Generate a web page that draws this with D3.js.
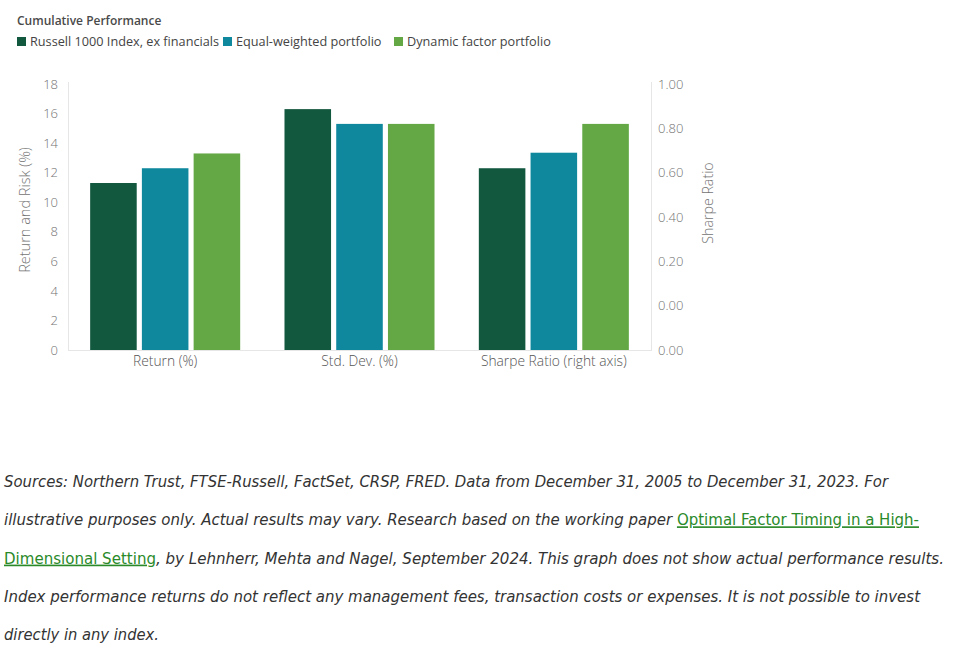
<!DOCTYPE html>
<html>
<head>
<meta charset="utf-8">
<script src="https://cdn.jsdelivr.net/npm/d3@7"></script>
<style>
  html, body { margin: 0; padding: 0; background: #fff; }
  svg { display: block; }
</style>
</head>
<body>
<svg id="chart" width="958" height="650"></svg>
<script>
// ---- data ----
const categories = ["Return (%)", "Std. Dev. (%)", "Sharpe Ratio (right axis)"];
const seriesNames = ["Russell 1000 Index, ex financials", "Equal-weighted portfolio", "Dynamic factor portfolio"];
const seriesColors = ["#12583f", "#0f889d", "#63a845"];
const returnValues = [11.3, 12.3, 13.3];
const stdDevValues = [16.3, 15.3, 15.3];
const sharpeValues = [0.62, 0.69, 0.82];
const leftTicks = [0, 2, 4, 6, 8, 10, 12, 14, 16, 18];
const rightTickValues = [-0.2, 0, 0.2, 0.4, 0.6, 0.8, 1.0];
const rightTickLabels = ["0.00", "0.00", "0.20", "0.40", "0.60", "0.80", "1.00"];
const footLines = [
  [{t: "Sources: Northern Trust, FTSE-Russell, FactSet, CRSP, FRED. Data from December 31, 2005 to December 31, 2023. For"}],
  [{t: "illustrative purposes only. Actual results may vary. Research based on the working paper "}, {t: "Optimal Factor Timing in a High-", link: true}],
  [{t: "Dimensional Setting", link: true}, {t: ", by Lehnherr, Mehta and Nagel, September 2024. This graph does not show actual performance results."}],
  [{t: "Index performance returns do not reflect any management fees, transaction costs or expenses. It is not possible to invest"}],
  [{t: "directly in any index."}]
];
const footWidths = [884, 915, 940, 916, 155];

// ---- layout ----
const svg = d3.select("#chart");
const L = 68, R = 651, T = 84, B = 350;
const font = "'Open Sans', Lato, sans-serif";

const x0 = d3.scaleBand().domain(categories).range([L, R]).paddingInner(0.228).paddingOuter(0.114);
const x1 = d3.scaleBand().domain(seriesNames).range([0, x0.bandwidth()]).paddingInner(0.1);
const yL = d3.scaleLinear().domain([0, 18]).range([B, T]);
const yR = d3.scaleLinear().domain([-0.2, 1.0]).range([B, T]);

const rows = [
  {cat: categories[0], vals: returnValues, scale: yL},
  {cat: categories[1], vals: stdDevValues, scale: yL},
  {cat: categories[2], vals: sharpeValues, scale: yR}
];

// axis lines
svg.append("line").attr("x1", L + 0.5).attr("x2", L + 0.5).attr("y1", T - 2).attr("y2", B).attr("stroke", "#e6e6e6");
svg.append("line").attr("x1", R + 0.5).attr("x2", R + 0.5).attr("y1", T - 2).attr("y2", B).attr("stroke", "#e6e6e6");
svg.append("line").attr("x1", L).attr("x2", R + 1).attr("y1", B + 0.5).attr("y2", B + 0.5).attr("stroke", "#e6e6e6");

// bars
rows.forEach(r => {
  const g = svg.append("g").attr("transform", `translate(${x0(r.cat)},0)`);
  g.selectAll("rect").data(r.vals).join("rect")
    .attr("x", (d, i) => x1(seriesNames[i]))
    .attr("width", x1.bandwidth())
    .attr("y", d => r.scale(d))
    .attr("height", d => B - r.scale(d))
    .attr("fill", (d, i) => seriesColors[i]);
});

const tickStyle = (sel, size) => sel.attr("font-family", font).attr("font-weight", 300).attr("font-size", size || 13).attr("fill", "#737373");

// left axis
const axL = d3.axisLeft(yL).tickValues(leftTicks).tickSize(0).tickPadding(10);
const gL = svg.append("g").attr("transform", `translate(${L},0)`).call(axL);
gL.select(".domain").remove();
tickStyle(gL.selectAll("text"));

// right axis
const axR = d3.axisRight(yR).tickValues(rightTickValues).tickFormat((d, i) => rightTickLabels[i]).tickSize(0).tickPadding(7);
const gR = svg.append("g").attr("transform", `translate(${R},0)`).call(axR);
gR.select(".domain").remove();
tickStyle(gR.selectAll("text"));

// x axis
const axX = d3.axisBottom(x0).tickSize(0).tickPadding(6);
const gX = svg.append("g").attr("transform", `translate(0,${B})`).call(axX);
gX.select(".domain").remove();
tickStyle(gX.selectAll("text"), 13.8).attr("fill", "#555");

// axis titles
tickStyle(svg.append("text").attr("transform", `translate(30,${(T + B) / 2 - 7}) rotate(-90)`)
  .attr("text-anchor", "middle"), 14.5).text("Return and Risk (%)");
tickStyle(svg.append("text").attr("transform", `translate(713,${(T + B) / 2 - 14}) rotate(-90)`)
  .attr("text-anchor", "middle"), 14.2).text("Sharpe Ratio");

// title
svg.append("text").attr("x", 17).attr("y", 25).attr("font-family", font).attr("font-weight", 600)
  .attr("font-size", 12).attr("fill", "#4a4a4a").text("Cumulative Performance");

// legend
const legendX = [17, 223, 394];
seriesNames.forEach((s, i) => {
  svg.append("rect").attr("x", legendX[i]).attr("y", 37).attr("width", 9).attr("height", 9).attr("fill", seriesColors[i]);
  svg.append("text").attr("x", legendX[i] + 13).attr("y", 46).attr("font-family", font)
    .attr("font-size", 12.7).attr("fill", "#444").text(s);
});

// footnote
const footFont = "'DejaVu Sans Condensed', 'Liberation Sans Narrow', sans-serif";
footLines.forEach((line, li) => {
  const t = svg.append("text").attr("x", 4).attr("y", 487 + li * 38.3)
    .attr("font-family", footFont).attr("font-style", "italic").attr("font-size", 16.5).attr("fill", "#333")
    .attr("textLength", footWidths[li]).attr("lengthAdjust", "spacingAndGlyphs");
  line.forEach(seg => {
    const ts = t.append("tspan").text(seg.t);
    if (seg.link) ts.attr("fill", "#2a8a2a").attr("text-decoration", "underline").attr("font-style", "normal");
  });
});
</script>
</body>
</html>
